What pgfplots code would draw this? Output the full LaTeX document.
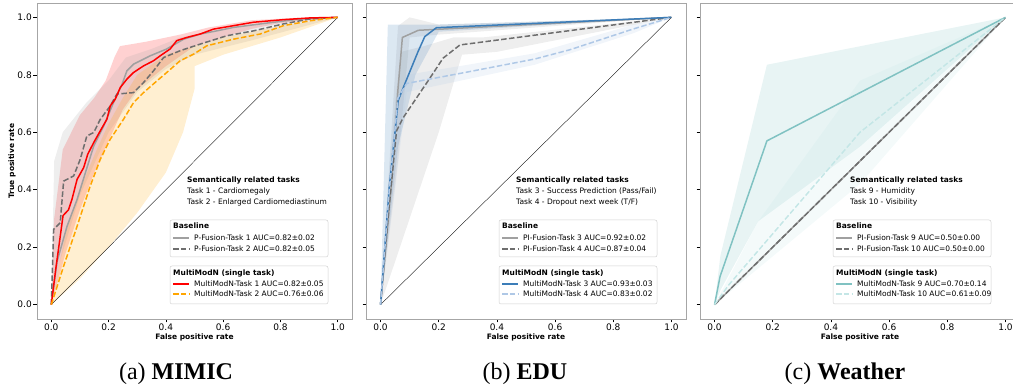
\documentclass[border=0pt]{standalone}
\usepackage{fontspec}
\setmainfont{DejaVu Sans}
\newfontfamily\capfont{Liberation Serif}
\usepackage{pgfplots}
\pgfplotsset{compat=1.18}

\definecolor{cRed}{HTML}{FF0000}
\definecolor{cOrange}{HTML}{FFA500}
\definecolor{cGray}{HTML}{A0A0A0}
\definecolor{cDGray}{HTML}{6E6E6E}
\definecolor{cBlue}{HTML}{3C7DB8}
\definecolor{cLBlue}{HTML}{AFC8E6}
\definecolor{cTeal}{HTML}{80C2C2}
\definecolor{cLTeal}{HTML}{C4E6E6}

\pgfplotsset{
 roc/.style={
  scale only axis, height=316pt, anchor=south west,
  xmin=-0.05,xmax=1.05,ymin=-0.05,ymax=1.05,
  xtick={0,0.2,0.4,0.6,0.8,1}, ytick={0,0.2,0.4,0.6,0.8,1},
  tick align=outside, tick pos=left, major tick length=3.5pt,
  axis line style={draw=black!35},
  major tick style={black, line width=0.6pt},
  tick label style={font=\fontsize{9}{10}\selectfont, inner sep=1.5pt},
  /pgf/number format/assume math mode=true,
  xticklabel style={/pgf/number format/.cd,fixed,fixed zerofill,precision=1},
  yticklabel style={/pgf/number format/.cd,fixed,fixed zerofill,precision=1},
  every axis x label/.style={at={(axis description cs:0.5,0)}, anchor=center, yshift=-18.5pt, inner sep=0.5pt, font=\fontsize{7.5}{8}\selectfont\bfseries},
  every axis y label/.style={at={(axis description cs:0,0.5)}, xshift=-25pt, rotate=90, anchor=center, inner sep=0.5pt, font=\fontsize{7.5}{8}\selectfont\bfseries},
  xlabel={False positive rate},
  clip=false,
 },
 band/.style={draw=none, fill=#1, fill opacity=0.18},
 mline/.style={line width=1.5pt, #1},
 dline/.style={line width=1.5pt, dash pattern=on 5.5pt off 2.4pt, #1},
 chance/.style={black, line width=0.35pt},
}

\newcommand{\legtext}[1]{\fontsize{7.5}{9}\selectfont #1}
\newcommand{\legbold}[1]{\fontsize{7.5}{9}\selectfont\bfseries #1}
% #1 left of axis (pt), #2 task a, #3 task b, #4 base1, #5 base2, #6 style m1, #7 text m1, #8 style m2, #9 text m2
\newcommand{\rocleg}[9]{%
 \begin{scope}[shift={(#1pt,0pt)}]
  \node[anchor=west, inner sep=0pt] at (150pt,205pt) {\legbold{Semantically related tasks}};
  \node[anchor=west, inner sep=0pt] at (150pt,193.5pt) {\legtext{#2}};
  \node[anchor=west, inner sep=0pt] at (150pt,183pt) {\legtext{#3}};
  \draw[draw=black!18, fill=white, fill opacity=0.8, rounded corners=2pt, line width=0.5pt] (133pt,128pt) rectangle (291pt,165pt);
  \node[anchor=west, inner sep=0pt] at (136pt,159pt) {\legbold{Baseline}};
  \draw[cGray, line width=1.5pt] (136pt,147pt) -- (152pt,147pt);
  \node[anchor=west, inner sep=0pt] at (157pt,147pt) {\legtext{#4}};
  \draw[cDGray, line width=1.5pt, dash pattern=on 5.5pt off 2.4pt] (136pt,136pt) -- (152pt,136pt);
  \node[anchor=west, inner sep=0pt] at (157pt,136pt) {\legtext{#5}};
  \draw[draw=black!18, fill=white, fill opacity=0.8, rounded corners=2pt, line width=0.5pt] (133pt,81pt) rectangle (291pt,119pt);
  \node[anchor=west, inner sep=0pt] at (136pt,111.5pt) {\legbold{MultiModN (single task)}};
  \draw[#6] (136pt,101pt) -- (152pt,101pt);
  \node[anchor=west, inner sep=0pt] at (157pt,101pt) {\legtext{#7}};
  \draw[#8] (136pt,91pt) -- (152pt,91pt);
  \node[anchor=west, inner sep=0pt] at (157pt,91pt) {\legtext{#9}};
 \end{scope}}

\begin{document}
\begin{tikzpicture}
\path[use as bounding box, clip] (0,0) rectangle (1013pt,385pt);

% ---------------- (a) MIMIC ----------------
\begin{axis}[roc, at={(37pt,66pt)}, width=315pt, ylabel={True positive rate}]
\addplot[band=cRed] coordinates {(0,0)(0.01,0.3)(0.04,0.54)(0.1,0.66)(0.15,0.72)(0.19,0.78)(0.22,0.86)(0.24,0.9)(0.33,0.915)(0.45,0.94)(0.55,0.965)(0.7,0.99)(0.85,0.998)(1,1)
 (0.8,0.98)(0.7,0.96)(0.6,0.93)(0.5,0.9)(0.4,0.83)(0.3,0.75)(0.25,0.68)(0.2,0.57)(0.15,0.46)(0.1,0.33)(0.05,0.18)} -- cycle;
\addplot[band=cGray] coordinates {(0,0)(0.01,0.5)(0.04,0.6)(0.08,0.65)(0.12,0.7)(0.2,0.78)(0.26,0.86)(0.35,0.89)(0.45,0.93)(0.6,0.96)(0.8,0.985)(1,1)
 (0.7,0.92)(0.5,0.87)(0.4,0.82)(0.3,0.74)(0.2,0.6)(0.1,0.38)(0.03,0.15)} -- cycle;
\addplot[band=cOrange] coordinates {(0,0)(0.05,0.25)(0.1,0.4)(0.15,0.52)(0.2,0.63)(0.25,0.72)(0.3,0.8)(0.4,0.87)(0.5,0.9)(0.6,0.93)(0.8,0.97)(1,1)
 (0.8,0.93)(0.6,0.87)(0.5,0.83)(0.5,0.75)(0.46,0.6)(0.4,0.46)(0.3,0.32)(0.2,0.2)(0.1,0.09)} -- cycle;
\addplot[chance] coordinates {(0,0)(1,1)};
\addplot[mline=cGray] coordinates {(0,0)(0.02,0.15)(0.055,0.273)(0.09,0.366)(0.119,0.459)(0.148,0.552)(0.183,0.622)(0.217,0.703)(0.247,0.767)(0.264,0.814)(0.287,0.837)(0.345,0.866)(0.403,0.89)(0.462,0.924)(0.52,0.942)(0.578,0.953)(0.636,0.965)(0.752,0.98)(0.869,0.994)(1,1)};
\addplot[dline=cDGray] coordinates {(0,0)(0.008,0.262)(0.031,0.285)(0.043,0.43)(0.078,0.448)(0.101,0.506)(0.124,0.587)(0.148,0.599)(0.171,0.645)(0.206,0.692)(0.229,0.733)(0.287,0.738)(0.322,0.773)(0.357,0.814)(0.392,0.86)(0.45,0.884)(0.52,0.907)(0.613,0.936)(0.706,0.953)(0.81,0.977)(0.9,0.994)(1,1)};
\addplot[mline=cRed] coordinates {(0,0)(0.015,0.12)(0.026,0.2)(0.041,0.31)(0.06,0.33)(0.072,0.366)(0.09,0.436)(0.113,0.477)(0.127,0.523)(0.148,0.564)(0.171,0.605)(0.194,0.645)(0.206,0.692)(0.223,0.715)(0.241,0.756)(0.264,0.785)(0.287,0.808)(0.322,0.831)(0.357,0.849)(0.38,0.866)(0.415,0.89)(0.438,0.919)(0.473,0.93)(0.52,0.942)(0.566,0.959)(0.636,0.971)(0.706,0.983)(0.81,0.992)(0.903,0.998)(1,1)};
\addplot[dline=cOrange] coordinates {(0,0)(0.043,0.134)(0.09,0.273)(0.136,0.413)(0.171,0.506)(0.206,0.576)(0.252,0.645)(0.287,0.703)(0.322,0.738)(0.369,0.779)(0.403,0.808)(0.45,0.849)(0.497,0.872)(0.543,0.901)(0.636,0.924)(0.729,0.942)(0.81,0.971)(0.903,0.988)(1,1)};
\end{axis}

% ---------------- (b) EDU ----------------
\begin{axis}[roc, at={(366pt,66pt)}, width=320pt, yticklabels={}]
\addplot[band=cGray] coordinates {(0,0)(0.06,0.97)(0.1,1.0)(0.2,0.975)(1,1)(0.2,0.94)(0.1,0.93)(0.06,0.5)} -- cycle;
\addplot[band=cGray] coordinates {(0,0)(0.05,0.7)(0.07,0.88)(0.15,0.9)(0.25,0.93)(0.35,0.93)(1,1)(0.4,0.88)(0.28,0.87)(0.2,0.6)(0.1,0.3)} -- cycle;
\addplot[band=cBlue] coordinates {(0,0)(0.025,0.975)(0.17,0.975)(0.2,0.975)(1,1)(0.2,0.95)(0.12,0.8)(0.06,0.55)} -- cycle;
\addplot[band=cLBlue] coordinates {(0,0)(0.04,0.6)(0.09,0.8)(0.3,0.835)(0.53,0.875)(0.87,0.975)(1,1)(0.87,0.945)(0.53,0.835)(0.3,0.785)(0.09,0.74)(0.05,0.4)} -- cycle;
\addplot[chance] coordinates {(0,0)(1,1)};
\addplot[mline=cGray] coordinates {(0,0)(0.04,0.45)(0.06,0.75)(0.075,0.93)(0.13,0.955)(1,1)};
\addplot[dline=cDGray] coordinates {(0,0)(0.026,0.305)(0.055,0.605)(0.078,0.651)(0.124,0.72)(0.17,0.789)(0.215,0.858)(0.273,0.904)(1,1)};
\addplot[mline=cBlue] coordinates {(0,0)(0.03,0.41)(0.061,0.711)(0.078,0.755)(0.101,0.812)(0.129,0.881)(0.152,0.933)(0.192,0.964)(1,1)};
\addplot[dline=cLBlue] coordinates {(0,0)(0.03,0.4)(0.06,0.72)(0.09,0.77)(0.3,0.81)(0.53,0.855)(0.65,0.887)(0.87,0.96)(1,1)};
\end{axis}

% ---------------- (c) Weather ----------------
\begin{axis}[roc, at={(700pt,66pt)}, width=320pt, yticklabels={}]
\addplot[band=cTeal] coordinates {(0,0)(0.02,0.17)(0.18,0.835)(1,1)(0.5,0.55)(0.15,0.29)(0.02,0.05)} -- cycle;
\addplot[band=cLTeal] coordinates {(0,0)(0.15,0.29)(0.5,0.78)(1,1)(0.5,0.42)} -- cycle;
\addplot[chance] coordinates {(0,0)(1,1)};
\addplot[mline=cGray] coordinates {(0,0)(1,1)};
\addplot[dline=cDGray] coordinates {(0,0)(1,1)};
\addplot[mline=cTeal] coordinates {(0,0)(0.019,0.098)(0.18,0.57)(1,1)};
\addplot[dline=cLTeal] coordinates {(0,0)(0.05,0.07)(0.5,0.6)(1,1)};
\end{axis}

\rocleg{37}{Task 1 - Cardiomegaly}{Task 2 - Enlarged Cardiomediastinum}%
 {P-Fusion-Task 1 AUC=0.82±0.02}{P-Fusion-Task 2 AUC=0.82±0.05}%
 {cRed, line width=1.5pt}{MultiModN-Task 1 AUC=0.82±0.05}%
 {cOrange, line width=1.5pt, dash pattern=on 5.5pt off 2.4pt}{MultiModN-Task 2 AUC=0.76±0.06}
\rocleg{366}{Task 3 - Success Prediction (Pass/Fail)}{Task 4 - Dropout next week (T/F)}%
 {PI-Fusion-Task 3 AUC=0.92±0.02}{PI-Fusion-Task 4 AUC=0.87±0.04}%
 {cBlue, line width=1.5pt}{MultiModN-Task 3 AUC=0.93±0.03}%
 {cLBlue, line width=1.5pt, dash pattern=on 5.5pt off 2.4pt}{MultiModN-Task 4 AUC=0.83±0.02}
\rocleg{700}{Task 9 - Humidity}{Task 10 - Visibility}%
 {PI-Fusion-Task 9 AUC=0.50±0.00}{PI-Fusion-Task 10 AUC=0.50±0.00}%
 {cTeal, line width=1.5pt}{MultiModN-Task 9 AUC=0.70±0.14}%
 {cLTeal, line width=1.5pt, dash pattern=on 5.5pt off 2.4pt}{MultiModN-Task 10 AUC=0.61±0.09}

\node[anchor=base, font=\capfont\fontsize{24}{26}\selectfont] at (176pt,5pt) {(a) \textbf{MIMIC}};
\node[anchor=base, font=\capfont\fontsize{24}{26}\selectfont] at (525pt,5pt) {(b) \textbf{EDU}};
\node[anchor=base, font=\capfont\fontsize{24}{26}\selectfont] at (845pt,5pt) {(c) \textbf{Weather}};
\end{tikzpicture}
\end{document}
